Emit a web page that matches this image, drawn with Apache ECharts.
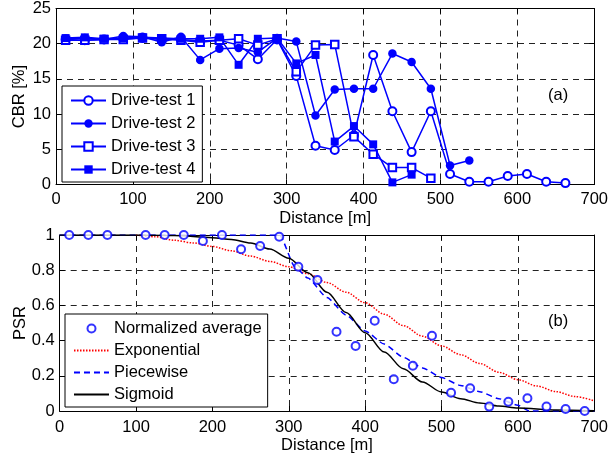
<!DOCTYPE html>
<html>
<head>
<meta charset="utf-8">
<script src="https://cdn.jsdelivr.net/npm/echarts@6/dist/echarts.min.js"></script>
<style>
  html, body { margin: 0; padding: 0; background: #fff; }
  #main { width: 611px; height: 456px; }
</style>
</head>
<body>
<div id="main"></div>
<script>
// distances of the drive-test samples [m]
const distTop = [12.5, 37.5, 62.5, 87.5, 112.5, 137.5, 162.5, 187.5, 212.5, 237.5, 262.5, 287.5, 312.5,
  337.5, 362.5, 387.5, 412.5, 437.5, 462.5, 487.5, 512.5, 537.5, 562.5, 587.5, 612.5, 637.5, 662.5];

// CBR [%] per drive-test
const drive1 = [20.6, 20.5, 20.6, 20.7, 20.8, 20.6, 20.6, 20.4, 20.5, 19.8, 17.8, 20.6, 15.4,
  5.5, 4.9, 7.0, 18.4, 10.4, 4.6, 10.4, 1.5, 0.4, 0.4, 1.2, 1.5, 0.4, 0.2];
const drive2 = [20.7, 20.8, 20.6, 21.1, 21.0, 20.2, 21.0, 17.7, 19.3, 19.4, 18.8, 20.8, 20.3,
  9.8, 13.5, 13.6, 13.6, 18.6, 17.4, 13.6, 2.7, 3.4];
const drive3 = [20.5, 20.5, 20.6, 20.6, 20.8, 20.7, 20.5, 20.2, 20.5, 20.7, 19.8, 20.7, 16.0,
  19.8, 19.9, 6.8, 4.3, 2.4, 2.4, 0.9];
const drive4 = [20.8, 20.9, 20.7, 20.8, 20.9, 20.8, 20.7, 20.7, 20.9, 17.0, 20.7, 20.8, 17.2,
  18.4, 6.1, 8.3, 5.7, 0.3, 1.4];

// normalized average PSR
const distAvg = [12.5, 37.5, 62.5, 112.5, 137.5, 162.5, 187.5, 212.5, 237.5, 262.5, 287.5, 312.5,
  337.5, 362.5, 387.5, 412.5, 437.5, 462.5, 487.5, 512.5, 537.5, 562.5, 587.5, 612.5, 637.5, 662.5, 687.5];
const avgPsr = [1, 1, 1, 1, 1, 1, 0.966, 1, 0.919, 0.9375, 0.99, 0.82, 0.744, 0.45, 0.369, 0.513,
  0.18, 0.257, 0.428, 0.104, 0.129, 0.025, 0.053, 0.072, 0.025, 0.011, 0.0];

// fitted models
const expX = [100, 125, 150, 175, 200, 225, 250, 275, 300, 325, 350, 375, 400, 425, 450, 475, 500,
  525, 550, 575, 600, 625, 650, 675, 700];
const expY = [1.0, 0.99, 0.97, 0.955, 0.935, 0.91, 0.88, 0.85, 0.82, 0.78, 0.73, 0.675, 0.615, 0.55,
  0.485, 0.425, 0.37, 0.32, 0.27, 0.22, 0.178, 0.142, 0.11, 0.082, 0.058];
const pieceX = [0, 288, 308, 325, 350, 375, 400, 425, 450, 475, 500, 525, 550, 575, 600, 615, 700];
const pieceY = [1, 1, 0.82, 0.755, 0.645, 0.545, 0.455, 0.38, 0.305, 0.245, 0.19, 0.145, 0.11, 0.07, 0.033, 0, 0];
const sigX = [0, 100, 150, 200, 225, 250, 275, 300, 325, 350, 375, 400, 425, 450, 475, 500, 525, 550,
  575, 600, 650, 700];
const sigY = [1, 1, 0.997, 0.985, 0.975, 0.955, 0.92, 0.868, 0.785, 0.675, 0.56, 0.445, 0.335, 0.24, 0.165,
  0.108, 0.07, 0.045, 0.028, 0.017, 0.006, 0.002];

const xTicks = { min: 0, max: 700, interval: 100 };
const cbrTicks = { min: 0, max: 25, interval: 5 };
const psrTicks = { min: 0, max: 1, interval: 0.2 };

const FONT = 'Liberation Sans';
const FSIZE = 16.5;
const BLUE = '#0000ff';

const pairs = (xs, ys) => ys.map((v, i) => [xs[i], v]);

const chart = echarts.init(document.getElementById('main'));

const gridLine = { show: true, lineStyle: { color: '#222', type: [6, 5], width: 1 } };
const boxLine = { show: true, onZero: false, lineStyle: { color: '#000', width: 1 } };
const tick = { show: true, inside: true, length: 5, lineStyle: { color: '#000' } };
const label = { color: '#000', fontSize: FSIZE, fontFamily: FONT };

function xAxisPair(gi, margin) {
  return [
    Object.assign({ type: 'value', gridIndex: gi, position: 'bottom', axisLine: boxLine, axisTick: tick,
      splitLine: gridLine, axisLabel: Object.assign({ margin: margin }, label),
      name: 'Distance [m]', nameLocation: 'middle', nameGap: 25,
      nameTextStyle: label }, xTicks),
    Object.assign({ type: 'value', gridIndex: gi, position: 'top', axisLine: boxLine, axisTick: tick,
      splitLine: { show: false }, axisLabel: { show: false } }, xTicks)
  ];
}
function yAxisPair(gi, ticks, name, gap) {
  return [
    Object.assign({ type: 'value', gridIndex: gi, position: 'left', axisLine: boxLine, axisTick: tick,
      splitLine: gridLine, axisLabel: Object.assign({ margin: 5 }, label),
      name: name, nameLocation: 'middle', nameGap: gap, nameRotate: 90, nameMoveOverlap: false,
      nameTextStyle: label }, ticks),
    Object.assign({ type: 'value', gridIndex: gi, position: 'right', axisLine: boxLine, axisTick: tick,
      splitLine: { show: false }, axisLabel: { show: false } }, ticks)
  ];
}

function drive(name, data, symbol, size) {
  return {
    name: name, type: 'line', xAxisIndex: 0, yAxisIndex: 0, data: pairs(distTop, data),
    symbol: symbol, symbolSize: size, showAllSymbol: true, clip: false,
    lineStyle: { color: BLUE, width: 1.5 },
    itemStyle: { color: BLUE, borderWidth: 1.5 },
    emphasis: { disabled: true }
  };
}

const legendBase = {
  orient: 'vertical', backgroundColor: '#fff', borderColor: '#000', borderWidth: 1, borderRadius: 0,
  itemWidth: 35, textStyle: label, selectedMode: false
};
const noMark = { opacity: 0 };

const option = {
  backgroundColor: '#fff',
  animation: false,
  grid: [
    { left: 56, top: 6, width: 541, height: 178.5 },
    { left: 59.7, top: 235, width: 539.3, height: 176 }
  ],
  xAxis: xAxisPair(0, 6).concat(xAxisPair(1, 8)),
  yAxis: yAxisPair(0, cbrTicks, 'CBR [%]', 28).concat(yAxisPair(1, psrTicks, 'PSR', 31)),
  legend: [
    Object.assign({}, legendBase, {
      data: ['Drive-test 1', 'Drive-test 2', 'Drive-test 3', 'Drive-test 4'],
      left: 62, top: 86, padding: [6, 7, 4, 8], itemGap: 6, itemHeight: 10.5
    }),
    Object.assign({}, legendBase, {
      data: [
        { name: 'Normalized average' },
        { name: 'Exponential', itemStyle: noMark },
        { name: 'Piecewise', itemStyle: noMark },
        { name: 'Sigmoid', itemStyle: noMark }
      ],
      left: 65, top: 314, padding: [6, 6, 4, 8], itemGap: 5, itemHeight: 8
    })
  ],
  graphic: [
    { type: 'text', left: 548, top: 87, style: { text: '(a)', fontSize: FSIZE, fontFamily: FONT, fill: '#000' } },
    { type: 'text', left: 548, top: 313, style: { text: '(b)', fontSize: FSIZE, fontFamily: FONT, fill: '#000' } }
  ],
  series: [
    drive('Drive-test 1', drive1, 'emptyCircle', 8),
    drive('Drive-test 2', drive2, 'circle', 8.5),
    drive('Drive-test 3', drive3, 'emptyRect', 7.5),
    drive('Drive-test 4', drive4, 'rect', 8),
    {
      name: 'Normalized average', type: 'scatter', xAxisIndex: 2, yAxisIndex: 2,
      data: pairs(distAvg, avgPsr), symbol: 'emptyCircle', symbolSize: 8, clip: false,
      itemStyle: { color: BLUE, borderColor: BLUE, borderWidth: 1.8 }, z: 5
    },
    {
      name: 'Exponential', type: 'line', xAxisIndex: 2, yAxisIndex: 2, data: pairs(expX, expY),
      symbol: 'none', smooth: 0.3, smoothMonotone: 'x',
      lineStyle: { color: '#ff0000', width: 1.5, type: [1.5, 1.5] }, itemStyle: { color: '#ff0000' }
    },
    {
      name: 'Piecewise', type: 'line', xAxisIndex: 2, yAxisIndex: 2, data: pairs(pieceX, pieceY),
      symbol: 'none', smooth: 0.2, smoothMonotone: 'x',
      lineStyle: { color: BLUE, width: 1.5, type: [6, 4] }, itemStyle: { color: BLUE }
    },
    {
      name: 'Sigmoid', type: 'line', xAxisIndex: 2, yAxisIndex: 2, data: pairs(sigX, sigY),
      symbol: 'none', smooth: 0.3, smoothMonotone: 'x',
      lineStyle: { color: '#000', width: 1.5 }, itemStyle: { color: '#000' }
    }
  ]
};

chart.setOption(option);
</script>
</body>
</html>
